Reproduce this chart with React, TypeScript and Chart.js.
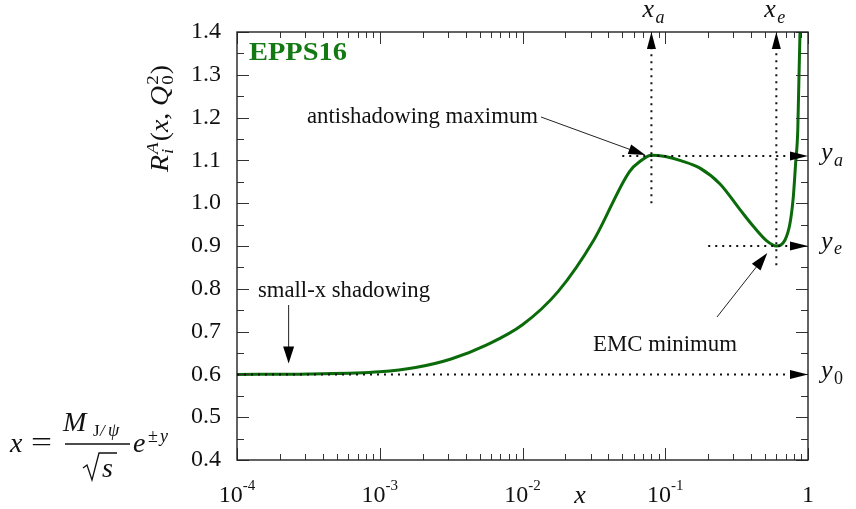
import React, { useEffect, useRef } from 'react';
import { Chart, registerables } from 'chart.js';

Chart.register(...registerables);

// ---------------- data ----------------
const X_VALUES = [1e-4, 3.16e-4, 1e-3, 1.78e-3, 3.16e-3, 5.62e-3, 0.01, 0.0178, 0.0316, 0.0562, 0.0668, 0.08, 0.1, 0.13, 0.175, 0.242, 0.334, 0.414, 0.514, 0.6, 0.69, 0.748, 0.789, 0.819, 0.848, 0.879, 0.92];
const R_VALUES = [0.600, 0.601, 0.606, 0.616, 0.636, 0.669, 0.716, 0.794, 0.914, 1.074, 1.098, 1.112, 1.109, 1.099, 1.082, 1.045, 0.985, 0.946, 0.912, 0.900, 0.914, 0.953, 1.015, 1.093, 1.171, 1.400, 1.800];

const Y_MIN = 0.4;
const Y_MAX = 1.4;
const Y_STEP = 0.1;
const X_MIN = 1e-4;
const X_MAX = 1;
const X_DECADES = [-4, -3, -2, -1, 0];
const X_TICK_EXPONENTS = ['-4', '-3', '-2', '-1', ''];

// characteristic points
const X_A = 0.08;
const Y_A = 1.11;
const X_E = 0.6;
const Y_E = 0.9;
const Y_0 = 0.6;
const X_A_GUIDE_FROM = 1.0;
const X_E_GUIDE_FROM = 0.855;
const Y_A_GUIDE_FROM = 0.05;
const Y_E_GUIDE_FROM = 0.2;
const Y_0_GUIDE_FROM = 1e-4;
const SHADOW_ARROW_X = 2.3e-4;

const TITLE = 'EPPS16';
const ANNOT_ANTI = 'antishadowing maximum';
const ANNOT_SMALL = 'small-x shadowing';
const ANNOT_EMC = 'EMC minimum';

// ---------------- drawing helpers ----------------
const SERIF = '"Liberation Serif", "Times New Roman", serif';
const it = (s: number) => `italic ${s}px ${SERIF}`;
const up = (s: number) => `${s}px ${SERIF}`;

function arrowHead(ctx: CanvasRenderingContext2D, tx: number, ty: number, angle: number, len: number, halfW: number) {
  ctx.save();
  ctx.translate(tx, ty);
  ctx.rotate(angle);
  ctx.beginPath();
  ctx.moveTo(0, 0);
  ctx.lineTo(-len, -halfW);
  ctx.lineTo(-len, halfW);
  ctx.closePath();
  ctx.fill();
  ctx.restore();
}

function arrow(ctx: CanvasRenderingContext2D, x1: number, y1: number, x2: number, y2: number, len: number, halfW: number) {
  const ang = Math.atan2(y2 - y1, x2 - x1);
  ctx.beginPath();
  ctx.moveTo(x1, y1);
  ctx.lineTo(x2 - Math.cos(ang) * (len - 2), y2 - Math.sin(ang) * (len - 2));
  ctx.stroke();
  arrowHead(ctx, x2, y2, ang, len, halfW);
}

function txt(ctx: CanvasRenderingContext2D, s: string, x: number, y: number, font: string, align: CanvasTextAlign = 'left') {
  ctx.font = font;
  ctx.textAlign = align;
  ctx.textBaseline = 'alphabetic';
  ctx.fillText(s, x, y);
  return ctx.measureText(s).width;
}

function fitText(ctx: CanvasRenderingContext2D, s: string, x: number, y: number, font: string, width: number) {
  ctx.font = font;
  ctx.textAlign = 'left';
  ctx.textBaseline = 'alphabetic';
  const w = ctx.measureText(s).width;
  ctx.save();
  ctx.translate(x, y);
  ctx.scale(width / w, 1);
  ctx.fillText(s, 0, 0);
  ctx.restore();
}

type Item = { t: string; font: string; dy: number; stack?: boolean; gap?: number };

function drawRich(ctx: CanvasRenderingContext2D, items: Item[], targetWidth: number) {
  let x = 0;
  let pend = 0;
  const pos: number[] = [];
  for (const item of items) {
    ctx.font = item.font;
    const w = ctx.measureText(item.t).width;
    pos.push(x + (item.gap || 0));
    if (item.stack) {
      pend = w;
    } else {
      x += Math.max(w, pend) + (item.gap || 0);
      pend = 0;
    }
  }
  ctx.save();
  ctx.scale(targetWidth / x, 1);
  items.forEach((item, i) => {
    ctx.font = item.font;
    ctx.textAlign = 'left';
    ctx.textBaseline = 'alphabetic';
    ctx.fillText(item.t, pos[i], item.dy);
  });
  ctx.restore();
}

const overlay = {
  id: 'overlay',
  afterDraw(chart: any) {
    const ctx: CanvasRenderingContext2D = chart.ctx;
    const xs = chart.scales.x;
    const ys = chart.scales.y;
    const { left: L, right: R, top: T, bottom: B } = chart.chartArea;
    ctx.save();

    // ---- ticks (inward, all four sides)
    ctx.strokeStyle = '#333';
    ctx.lineWidth = 1;
    ctx.beginPath();
    const nY = Math.round((Y_MAX - Y_MIN) / (Y_STEP / 2));
    for (let i = 0; i <= nY; i++) {
      const v = Y_MIN + (i * Y_STEP) / 2;
      const py = Math.round(ys.getPixelForValue(v)) + 0.5;
      const len = i % 2 === 0 ? 12 : 7;
      ctx.moveTo(L, py); ctx.lineTo(L + len, py);
      ctx.moveTo(R, py); ctx.lineTo(R - len, py);
    }
    X_DECADES.forEach((d) => {
      const vals: [number, number][] = [[Math.pow(10, d), 12]];
      if (d < 0) for (let m = 2; m <= 9; m++) vals.push([m * Math.pow(10, d), 6]);
      vals.forEach(([v, len]) => {
        const px = Math.round(xs.getPixelForValue(v)) + 0.5;
        ctx.moveTo(px, B); ctx.lineTo(px, B - len);
        ctx.moveTo(px, T); ctx.lineTo(px, T + len);
      });
    });
    ctx.stroke();

    // ---- frame
    ctx.strokeStyle = '#222';
    ctx.lineWidth = 1.4;
    ctx.strokeRect(L, T, R - L, B - T);

    // ---- x tick labels
    ctx.fillStyle = '#111';
    X_DECADES.forEach((d, i) => {
      const px = xs.getPixelForValue(Math.pow(10, d));
      const exp = X_TICK_EXPONENTS[i];
      if (!exp) {
        txt(ctx, '1', px, 502, up(24), 'center');
        return;
      }
      ctx.font = up(24);
      const w1 = ctx.measureText('10').width;
      ctx.font = up(15);
      const w2 = ctx.measureText(exp).width;
      const x0 = px - (w1 + w2) / 2;
      txt(ctx, '10', x0, 502, up(24));
      txt(ctx, exp, x0 + w1, 490, up(15));
    });
    // x axis title
    txt(ctx, 'x', 580, 503, it(26), 'center');

    // ---- dotted guides
    const xa = xs.getPixelForValue(X_A);
    const xe = xs.getPixelForValue(X_E);
    const ya = ys.getPixelForValue(Y_A);
    const ye = ys.getPixelForValue(Y_E);
    const y0 = ys.getPixelForValue(Y_0);
    ctx.strokeStyle = '#111';
    ctx.lineWidth = 2;
    ctx.setLineDash([2, 5]);
    ctx.beginPath();
    ctx.moveTo(xs.getPixelForValue(Y_0_GUIDE_FROM), y0); ctx.lineTo(R - 17, y0);
    ctx.moveTo(xs.getPixelForValue(Y_A_GUIDE_FROM), ya); ctx.lineTo(R - 17, ya);
    ctx.moveTo(xs.getPixelForValue(Y_E_GUIDE_FROM), ye); ctx.lineTo(R - 17, ye);
    ctx.moveTo(xa, ys.getPixelForValue(X_A_GUIDE_FROM)); ctx.lineTo(xa, T + 16);
    ctx.moveTo(xe, ys.getPixelForValue(X_E_GUIDE_FROM)); ctx.lineTo(xe, T + 16);
    ctx.stroke();
    ctx.setLineDash([]);
    ctx.fillStyle = '#000';
    arrowHead(ctx, R, y0, 0, 18, 4.5);
    arrowHead(ctx, R, ya, 0, 18, 4.5);
    arrowHead(ctx, R, ye, 0, 18, 4.5);
    arrowHead(ctx, xa, T, -Math.PI / 2, 17, 4.5);
    arrowHead(ctx, xe, T, -Math.PI / 2, 17, 4.5);

    // ---- marker labels
    ctx.fillStyle = '#111';
    txt(ctx, 'x', xa - 9, 17, it(26));
    txt(ctx, 'a', xa + 4, 23, it(18));
    txt(ctx, 'x', xe - 12, 17, it(26));
    txt(ctx, 'e', xe + 1, 23, it(18));
    txt(ctx, 'y', 821, ya + 4, it(26));
    txt(ctx, 'a', 834, ya + 10, it(18));
    txt(ctx, 'y', 821, ye + 3, it(26));
    txt(ctx, 'e', 834, ye + 8, it(18));
    txt(ctx, 'y', 821, y0 + 4, it(26));
    txt(ctx, '0', 834, y0 + 10, up(18));

    // ---- annotations
    ctx.fillStyle = '#111';
    fitText(ctx, ANNOT_ANTI, 307, 123, up(23), 231);
    fitText(ctx, ANNOT_SMALL, 258, 297, up(23), 172);
    fitText(ctx, ANNOT_EMC, 593, 351, up(23), 144);
    ctx.strokeStyle = '#222';
    ctx.fillStyle = '#000';
    ctx.lineWidth = 1;
    arrow(ctx, 541, 117, xa - 6, ya - 1, 17, 5);
    const sx = xs.getPixelForValue(SHADOW_ARROW_X);
    arrow(ctx, sx, 305, sx, y0 - 11, 17, 5.5);
    arrow(ctx, 717, 317, xe - 9, ye + 7, 18, 5.5);

    // ---- title
    ctx.fillStyle = '#137a13';
    fitText(ctx, TITLE, 249, 60, `bold 25px ${SERIF}`, 98);

    // ---- y axis title R_i^A(x, Q_0^2)
    ctx.fillStyle = '#111';
    ctx.save();
    ctx.translate(168, 172);
    ctx.rotate(-Math.PI / 2);
    drawRich(ctx, [
      { t: 'R', font: it(25), dy: 0 },
      { t: 'i', font: it(17), dy: 5, stack: true, gap: 1 },
      { t: 'A', font: it(17), dy: -10, gap: 1 },
      { t: '(', font: up(25), dy: 0, gap: 1 },
      { t: 'x', font: it(25), dy: 0 },
      { t: ',', font: up(25), dy: 0 },
      { t: 'Q', font: it(25), dy: 0, gap: 6 },
      { t: '0', font: up(17), dy: 5, stack: true, gap: 1 },
      { t: '2', font: up(17), dy: -10, gap: 1 },
      { t: ')', font: up(25), dy: 0, gap: 1 },
    ], 107);
    ctx.restore();

    // ---- formula x = M_{J/psi}/sqrt(s) e^{±y}
    ctx.fillStyle = '#111';
    txt(ctx, 'x', 10, 452, it(28));
    fitText(ctx, '=', 31, 451, up(28), 21);
    ctx.strokeStyle = '#111';
    ctx.lineWidth = 1.3;
    ctx.beginPath();
    ctx.moveTo(65, 444); ctx.lineTo(130, 444);
    ctx.stroke();
    txt(ctx, 'M', 63, 431, it(28));
    txt(ctx, 'J', 93, 436, up(17));
    txt(ctx, '/', 100, 436, it(17));
    txt(ctx, 'ψ', 108, 436, it(18));
    // radical
    ctx.lineWidth = 1.3;
    ctx.beginPath();
    ctx.moveTo(83, 468);
    ctx.lineTo(87, 465);
    ctx.lineTo(92, 480);
    ctx.lineTo(99, 453);
    ctx.lineTo(117, 453);
    ctx.stroke();
    txt(ctx, 's', 102, 477, it(28));
    txt(ctx, 'e', 133, 452, it(28));
    txt(ctx, '±', 148, 442, up(18));
    txt(ctx, 'y', 160, 442, it(18));

    ctx.restore();
  },
};

export default function App() {
  const ref = useRef<HTMLCanvasElement | null>(null);
  useEffect(() => {
    if (!ref.current) return;
    const chart = new Chart(ref.current, {
      type: 'line',
      data: {
        datasets: [
          {
            data: X_VALUES.map((x, i) => ({ x, y: R_VALUES[i] })),
            borderColor: '#0b6b0b',
            borderWidth: 3,
            pointRadius: 0,
            fill: false,
            cubicInterpolationMode: 'monotone',
          } as any,
        ],
      },
      options: {
        responsive: false,
        animation: false,
        devicePixelRatio: 1,
        layout: { padding: { top: 32, right: 48, left: 0, bottom: 0 } },
        plugins: { legend: { display: false }, tooltip: { enabled: false }, title: { display: false } },
        scales: {
          x: {
            type: 'logarithmic',
            min: X_MIN,
            max: X_MAX,
            grid: { display: false, drawTicks: false },
            border: { display: false },
            ticks: { display: false },
            afterFit: (s: any) => { s.height = 49; },
          },
          y: {
            type: 'linear',
            min: Y_MIN,
            max: Y_MAX,
            grid: { display: false, drawTicks: false },
            border: { display: false },
            ticks: {
              stepSize: Y_STEP,
              padding: 16,
              color: '#111',
              font: { family: SERIF, size: 24 },
              callback: (v: any) => Number(v).toFixed(1),
            },
            afterFit: (s: any) => { s.width = 237; },
          },
        },
      } as any,
      plugins: [overlay],
    });
    return () => chart.destroy();
  }, []);
  return (
    <div style={{ position: 'fixed', left: 0, top: 0, width: 856, height: 509, background: '#fff' }}>
      <canvas ref={ref} width={856} height={509} style={{ display: 'block', width: 856, height: 509 }} />
    </div>
  );
}
